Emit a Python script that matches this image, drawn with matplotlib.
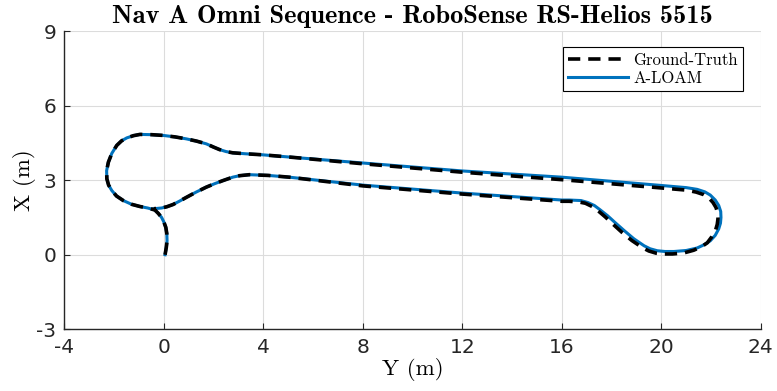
import matplotlib
matplotlib.use("Agg")
import matplotlib.pyplot as plt

# ── Trajectory data (horizontal = Y, vertical = X, metres) ────────────────────
# shared start + left loop + top straight (both series agree here)
start_y = [0.05, 0.10, 0.13, 0.12, 0.08, 0.0, -0.09, -0.22, -0.36, -0.65, -0.96,
           -1.30, -1.63, -1.90, -2.09, -2.22, -2.29, -2.30, -2.23, -2.09, -1.89,
           -1.70, -1.49, -1.22, -0.96, -0.5, -0.03, 0.45, 0.91, 1.32, 1.71, 2.0,
           2.24, 2.5, 2.77, 3.3, 3.97, 5.04]
start_x = [0.0, 0.30, 0.56, 0.85, 1.10, 1.32, 1.50, 1.66, 1.80, 1.88, 1.94,
           2.03, 2.18, 2.36, 2.58, 2.80, 3.05, 3.38, 3.72, 4.08, 4.40,
           4.58, 4.70, 4.79, 4.84, 4.83, 4.80, 4.74, 4.66, 4.57, 4.46, 4.33,
           4.23, 4.15, 4.10, 4.06, 4.02, 3.93]

# right part of A-LOAM (top straight -> right loop -> bottom straight)
loam_right_y = [8.0, 12.0, 16.0, 19.84, 21.0, 21.44, 21.75, 21.97, 22.17, 22.31,
                22.39, 22.4, 22.38, 22.31, 22.17, 21.97, 21.72, 21.44, 21.0, 20.51,
                20.15, 19.84, 19.55, 19.31, 18.9, 18.51, 18.17, 17.84, 17.55, 17.31,
                17.05, 16.77, 16.3, 16.0, 12.0, 8.0]
loam_right_x = [3.69, 3.37, 3.12, 2.80, 2.70, 2.63, 2.53, 2.40, 2.20, 1.98,
                1.74, 1.50, 1.27, 1.04, 0.78, 0.56, 0.40, 0.27, 0.17, 0.13,
                0.13, 0.16, 0.24, 0.36, 0.64, 0.97, 1.27, 1.57, 1.80, 1.98,
                2.10, 2.18, 2.20, 2.20, 2.48, 2.80]

# right part of ground truth (sits slightly lower / inside)
gt_right_y = [8.0, 12.0, 16.0, 19.84, 21.0, 21.4, 21.7, 21.9, 22.08, 22.2,
              22.27, 22.28, 22.25, 22.18, 22.03, 21.85, 21.6, 21.3, 20.9, 20.45,
              20.1, 19.8, 19.5, 19.25, 18.82, 18.42, 18.08, 17.75, 17.47, 17.22,
              16.95, 16.7, 16.3, 16.0, 12.0, 8.0]
gt_right_x = [3.66, 3.32, 3.02, 2.70, 2.60, 2.52, 2.42, 2.30, 2.10, 1.90,
              1.67, 1.45, 1.22, 0.98, 0.72, 0.48, 0.31, 0.18, 0.07, 0.03,
              0.03, 0.06, 0.15, 0.28, 0.57, 0.90, 1.21, 1.52, 1.76, 1.94,
              2.07, 2.12, 2.15, 2.15, 2.44, 2.77]

# shared bottom-left return to the loop junction
end_y = [5.04, 4.2, 3.44, 3.05, 2.77, 2.37, 2.05, 1.71, 1.30, 0.91, 0.62, 0.37,
         0.12, -0.09, -0.4]
end_x = [3.12, 3.19, 3.22, 3.18, 3.12, 2.98, 2.86, 2.72, 2.52, 2.31, 2.15, 2.02,
         1.93, 1.88, 1.85]

loam_y = start_y + loam_right_y + end_y
loam_x = start_x + loam_right_x + end_x
gt_y = start_y + gt_right_y + end_y
gt_x = start_x + gt_right_x + end_x

xticks = [-4, 0, 4, 8, 12, 16, 20, 24]
yticks = [-3, 0, 3, 6, 9]

plt.rcParams['axes.unicode_minus'] = False

fig = plt.figure(figsize=(7.77, 3.91), dpi=100)
ax = fig.add_axes([0.0828, 0.1578, 0.8963, 0.7629])

loam_line, = ax.plot(loam_y, loam_x, color='#0072BD', lw=2.2, zorder=3,
                     solid_joinstyle='round', label='A-LOAM')
gt_line, = ax.plot(gt_y, gt_x, color='black', lw=2.6, zorder=4,
                   dashes=(3.4, 2.2), label='Ground-Truth')

ax.set_xlim(-4, 24)
ax.set_ylim(-3, 9)
ax.set_xticks(xticks)
ax.set_yticks(yticks)
ax.grid(True, color='#dcdcdc', lw=0.8)
ax.set_axisbelow(True)
for side in ['top', 'right']:
    ax.spines[side].set_visible(False)
for side in ['left', 'bottom']:
    ax.spines[side].set_color('#262626')
    ax.spines[side].set_linewidth(1.0)
ax.tick_params(direction='in', length=4, width=0.8, colors='#262626',
               labelsize=14.5, pad=6)

ax.set_title('Nav A Omni Sequence - RoboSense RS-Helios 5515',
             family='cmb10', fontsize=19, pad=6)
ax.set_xlabel('Y (m)', family='cmr10', fontsize=16.5, labelpad=1)
ax.set_ylabel('X (m)', family='cmr10', fontsize=16.5, labelpad=0)

leg = ax.legend(handles=[gt_line, loam_line], loc='upper right',
                bbox_to_anchor=(0.974, 0.945), prop={'family': 'cmr10', 'size': 12},
                handlelength=3.6, fancybox=False, framealpha=1,
                edgecolor='black', borderpad=0.3, labelspacing=0.15,
                handletextpad=0.3, borderaxespad=0)
leg.get_frame().set_linewidth(0.8)

plt.savefig('out.png', dpi=100)
